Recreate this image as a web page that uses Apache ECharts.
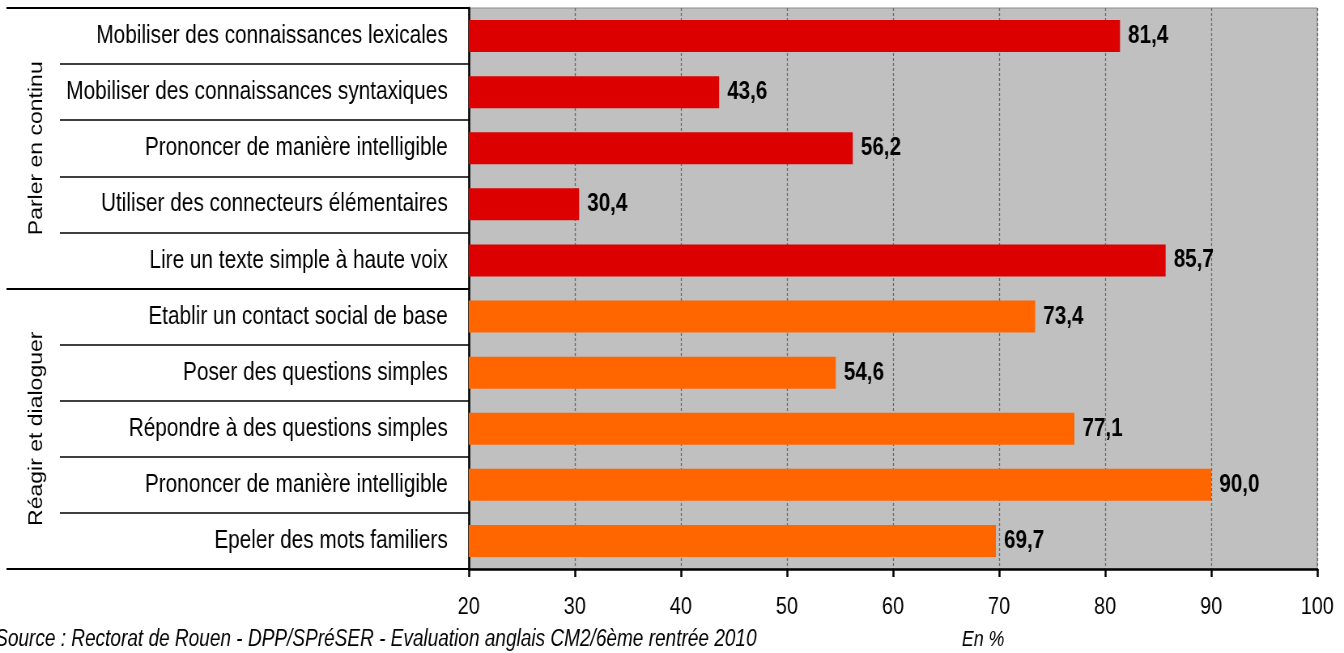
<!DOCTYPE html>
<html>
<head>
<meta charset="utf-8">
<script src="https://cdn.jsdelivr.net/npm/echarts@6/dist/echarts.min.js"></script>
<style>
  html, body { margin: 0; padding: 0; background: #fff; overflow: hidden; }
  /* le graphique d'origine utilise une police étroite : on dessine plus large puis on compresse en X */
  #chart { width: 1660px; height: 653px; transform: scaleX(0.80964); transform-origin: 0 0; }
</style>
</head>
<body>
<div id="chart"></div>
<script>
// données
const categories = [
  "Mobiliser des connaissances lexicales",
  "Mobiliser des connaissances syntaxiques",
  "Prononcer de manière intelligible",
  "Utiliser des connecteurs élémentaires",
  "Lire un texte simple à haute voix",
  "Etablir un contact social de base",
  "Poser des questions simples",
  "Répondre à des questions simples",
  "Prononcer de manière intelligible",
  "Epeler des mots familiers",
];
const values = [81.4, 43.6, 56.2, 30.4, 85.7, 73.4, 54.6, 77.1, 90.0, 69.7];
const groupOf = [0, 0, 0, 0, 0, 1, 1, 1, 1, 1];
const groups = ["Parler en continu", "Réagir et dialoguer"];
const groupColors = ["#DD0000", "#FF6600"];
const xTicks = [20, 30, 40, 50, 60, 70, 80, 90, 100];

const FONT = '"Liberation Sans", Arial, sans-serif';

const chart = echarts.init(document.getElementById("chart"));

const options = {
  animation: false,
  textStyle: { fontFamily: FONT },
  title: [
    {
      text: "Source : Rectorat de Rouen - DPP/SPréSER - Evaluation anglais CM2/6ème rentrée 2010",
      left: -6,
      top: 628,
      padding: 0,
      textStyle: { fontFamily: FONT, fontStyle: "italic", fontWeight: "normal", fontSize: 23.5, color: "#000" },
    },
    {
      text: "En %",
      left: 1188,
      top: 629,
      padding: 0,
      textStyle: { fontFamily: FONT, fontStyle: "italic", fontWeight: "normal", fontSize: 22, color: "#000" },
    },
  ],
  grid: {
    left: 579,
    right: 33,
    top: 8,
    bottom: 84,
    show: true,
    backgroundColor: "#C0C0C0",
    borderColor: "#8a8a8a",
    borderWidth: 1,
  },
  xAxis: {
    type: "value",
    min: xTicks[0],
    max: xTicks[xTicks.length - 1],
    interval: 10,
    axisLine: { show: true, lineStyle: { color: "#000", width: 2.5 } },
    axisTick: { show: true, length: 8, lineStyle: { color: "#000", width: 2.5 } },
    axisLabel: { color: "#000", fontSize: 24.5, margin: 26, fontFamily: FONT },
    splitLine: { show: true, lineStyle: { color: "#6a6a6a", type: [3, 2], width: 1.3 } },
  },
  yAxis: [
    {
      type: "category",
      inverse: true,
      data: categories,
      axisLine: { show: true, lineStyle: { color: "#000", width: 2.5 } },
      axisTick: { show: true, interval: 0, length: 505, lineStyle: { color: "#000", width: 1.5 } },
      axisLabel: { color: "#000", fontSize: 25.7, margin: 26, interval: 0, fontFamily: FONT },
    },
    {
      type: "category",
      inverse: true,
      position: "left",
      data: groups,
      axisLine: { show: false },
      axisTick: { show: true, interval: 0, length: 571, lineStyle: { color: "#000", width: 2 } },
      axisLabel: { color: "#000", fontSize: 23, rotate: 90, margin: 522, fontFamily: FONT },
    },
  ],
  series: [
    {
      type: "bar",
      yAxisIndex: 0,
      barCategoryGap: "43%",
      data: values.map((v, i) => ({
        value: v,
        itemStyle: { color: groupColors[groupOf[i]] },
      })),
      label: {
        show: true,
        position: "right",
        distance: 10,
        color: "#000",
        fontWeight: "bold",
        fontSize: 25.5,
        fontFamily: FONT,
        formatter: (p) => p.value.toFixed(1).replace(".", ","),
      },
    },
  ],
};

chart.setOption(options);
window.addEventListener("resize", () => chart.resize());
</script>
</body>
</html>
